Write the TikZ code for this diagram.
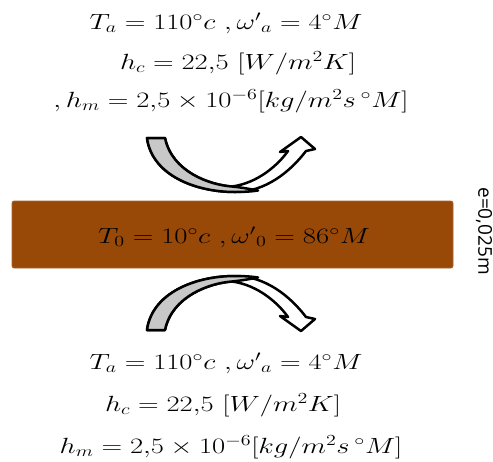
\RequirePackage{fix-cm}
\documentclass[tikz,border=0pt]{standalone}
\usepackage{fontspec}
\newfontfamily\labelfont{Open Sans}
\definecolor{slabbrown}{HTML}{984807}
\definecolor{bandgrey}{HTML}{C8C8C8}
\newcommand{\curvedarrowshape}{%
  \filldraw[arrowline, fill=white]
    (147,138) -- (165,138)
    .. controls (172,172) and (210,185) .. (232,186.5)
    .. controls (258,183) and (278,165) .. (288,151)
    -- (280,152) -- (301,137) -- (315,149) -- (306,151)
    .. controls (290,172) and (265,192) .. (235,192)
    .. controls (195,192) and (152,175) .. (147,138) -- cycle;
  \filldraw[arrowline, fill=bandgrey]
    (147,138) -- (165,138)
    .. controls (172,172) and (210,185) .. (232,186.5)
    .. controls (242,187.5) and (250,189) .. (258,190.5)
    .. controls (250,191.7) and (242,192) .. (235,192)
    .. controls (195,192) and (152,175) .. (147,138) -- cycle;
}
\newcommand{\widemath}[1]{\scalebox{1.3}[1]{$#1$}}
\tikzset{
  arrowline/.style={line width=2.5pt, line join=round, draw=black},
  mathlabel/.style={inner sep=0pt, font=\fontsize{22}{26}\selectfont},
}
\begin{document}
\begin{tikzpicture}[x=1pt, y=-1pt]
\useasboundingbox (0,0) rectangle (493,461);
% top block of text
\node[mathlabel] (ta1) at (226,23) {\widemath{T_a = 110^{\circ}c\ ,{\omega'}_a = 4^{\circ}M}};
\node[mathlabel] (hc1) at (238,63) {\widemath{h_c = 22{,}5\ [W/m^2K]}};
\node[mathlabel] (hm1) at (231,101) {\widemath{,h_m = 2{,}5 \times 10^{-6}[kg/m^2s\,^{\circ}M]}};
% top arrow
\curvedarrowshape
% slab
\node[draw=slabbrown!85!white, line width=0.6pt, fill=slabbrown, rounded corners=2pt,
      minimum width=441pt, minimum height=67pt, inner sep=0pt] (slab) at (232.5,234.5) {};
\node[mathlabel] (t0) at (234,237) {\widemath{T_0 = 10^{\circ}c\ ,{\omega'}_0 = 86^{\circ}M}};
% thickness label
\node[rotate=-90, inner sep=0pt, font=\labelfont\fontsize{19}{22}\selectfont] (thick) at (484,231) {e=0,025m};
% bottom arrow (mirror)
\begin{scope}[shift={(0,468)}, yscale=-1]
\curvedarrowshape
\end{scope}
% bottom block of text
\node[mathlabel] (ta2) at (226,363) {\widemath{T_a = 110^{\circ}c\ ,{\omega'}_a = 4^{\circ}M}};
\node[mathlabel] (hc2) at (223,405) {\widemath{h_c = 22{,}5\ [W/m^2K]}};
\node[mathlabel] (hm2) at (231,447) {\widemath{h_m = 2{,}5 \times 10^{-6}[kg/m^2s\,^{\circ}M]}};
\end{tikzpicture}
\end{document}
